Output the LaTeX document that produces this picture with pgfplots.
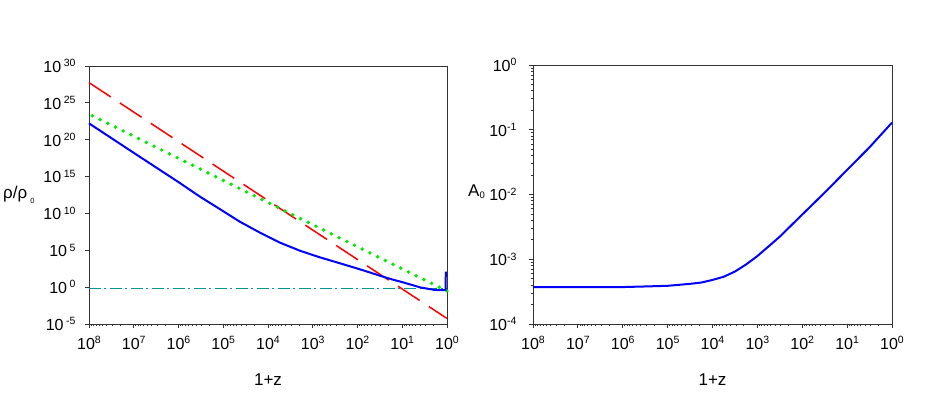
\documentclass[border=0pt]{standalone}
\usepackage{pgfplots}
\pgfplotsset{compat=1.18}
\usepackage{fontspec}
\setmainfont{Liberation Sans}

\definecolor{dteal}{RGB}{0,150,150}
\definecolor{lgreen}{RGB}{0,235,0}

% tick labels: 10 with a raised exponent
\newcommand\tk[1]{10\raisebox{5.5pt}{\fontsize{10.5}{10.5}\selectfont#1}}
\newcommand\tks[1]{10\hspace{2.5pt}\raisebox{5.5pt}{\fontsize{10.5}{10.5}\selectfont#1}}

\pgfplotsset{
  every axis/.append style={
    scale only axis, anchor=south west,
    axis line style={black!80, line width=0.8pt},
    tick style={black!80, line width=0.8pt},
    tick align=outside,
    xtick pos=left, ytick pos=left,
    major tick length=4pt, minor tick length=2.5pt,
    ticklabel style={font=\fontsize{16}{19}\selectfont},
    xticklabel style={yshift=-5pt},
  },
  every axis x label/.style={at={(axis description cs:0.5,0)}, anchor=center,
    yshift=-56pt, font=\fontsize{17}{20}\selectfont},
}

\begin{document}
\begin{tikzpicture}
\useasboundingbox (0,0) rectangle (926pt,393pt);

% left panel: densities
\begin{axis}[at={(89pt,69pt)}, width=358pt, height=258pt,
    xmode=log, ymode=log, x dir=reverse,
    xmin=1, xmax=1e8,
    xtick={1,10,100,1e3,1e4,1e5,1e6,1e7,1e8},
    xticklabels={\tk{0},\tk{1},\tk{2},\tk{3},\tk{4},\tk{5},\tk{6},\tk{7},\tk{8}},
    xlabel={1+z},
    ymin=1e-5, ymax=1e30, clip=false,
    ytick={1e-5,1,1e5,1e10,1e15,1e20,1e25,1e30},
    yticklabels={\tks{-5},\tks{0},\tks{5},\tks{10},\tks{15},\tks{20},\tks{25},\tks{30}},
    yticklabel style={xshift=-6pt},
    ylabel={ρ/ρ\hspace{3pt}\raisebox{-5pt}{\fontsize{7.5}{7.5}\selectfont 0}},
    every axis y label/.style={at={(axis description cs:0,0.5)}, anchor=west,
      xshift=-86pt, inner sep=0pt, font=\fontsize{17}{20}\selectfont},
]
\addplot[dteal, line width=1.4pt, dash pattern=on 12pt off 3.5pt on 2pt off 3.5pt]
  coordinates {(1e8,0.7)(1,0.7)};
\addplot[red, line width=1.5pt, dash pattern=on 26pt off 11pt]
  coordinates {(1e8,5.6e27)(1,5.6e-5)};
\addplot[lgreen, line width=3.9pt, line cap=round, dash pattern=on 0pt off 8.6pt]
  coordinates {(1,0.3)(1e8,3e23)};
\addplot[blue, line width=2pt] coordinates {
  (1e8,1.66e22)(1e7,1.66e18)(1e6,1.78e14)(3.31e5,1.86e12)(1.17e5,3.63e10)
  (4.27e4,7.59e8)(1.51e4,2.45e7)(5.37e3,1.07e6)(1.93e3,8.71e4)(692,1.10e4)
  (245,1.70e3)(87.1,257)(26.9,26.3)(15.8,10)(10,4.8)(3.98,0.93)(2.0,0.44)
  (1.41,0.38)(1.12,0.39)(1.07,0.45)(1.065,125)
};
\end{axis}

% right panel: A_0
\begin{axis}[at={(533pt,69pt)}, width=359pt, height=259pt,
    xmode=log, ymode=log, x dir=reverse,
    xmin=1, xmax=1e8,
    xtick={1,10,100,1e3,1e4,1e5,1e6,1e7,1e8},
    xticklabels={\tk{0},\tk{1},\tk{2},\tk{3},\tk{4},\tk{5},\tk{6},\tk{7},\tk{8}},
    xlabel={1+z},
    ymin=1e-4, ymax=1,
    ytick={1e-4,1e-3,1e-2,1e-1,1},
    yticklabels={\tk{-4},\tk{-3},\tk{-2},\tk{-1},\tk{0}},
    yticklabel style={xshift=-9pt},
    minor ytick={2e-4,3e-4,4e-4,5e-4,6e-4,7e-4,8e-4,9e-4,
      2e-3,3e-3,4e-3,5e-3,6e-3,7e-3,8e-3,9e-3,
      2e-2,3e-2,4e-2,5e-2,6e-2,7e-2,8e-2,9e-2,
      0.2,0.3,0.4,0.5,0.6,0.7,0.8,0.9},
    ylabel={A\raisebox{-2.5pt}{\fontsize{9.5}{9.5}\selectfont 0}},
    every axis y label/.style={at={(axis description cs:0,0.5)}, anchor=west,
      xshift=-65pt, yshift=3pt, inner sep=0pt, font=\fontsize{17}{20}\selectfont},
]
\addplot[blue, line width=2pt] coordinates {
  (1e8,3.72e-4)(1e7,3.72e-4)(1e6,3.72e-4)(3.16e5,3.80e-4)(1e5,3.89e-4)
  (3.16e4,4.17e-4)(1.78e4,4.37e-4)(1e4,4.79e-4)(5.62e3,5.37e-4)(3.16e3,6.46e-4)
  (1.78e3,8.32e-4)(1e3,1.12e-3)(562,1.58e-3)(316,2.24e-3)(178,3.31e-3)
  (100,4.90e-3)(31.6,1.07e-2)(10,2.40e-2)(3.16,5.37e-2)(1,0.129)
};
\end{axis}
\end{tikzpicture}
\end{document}
